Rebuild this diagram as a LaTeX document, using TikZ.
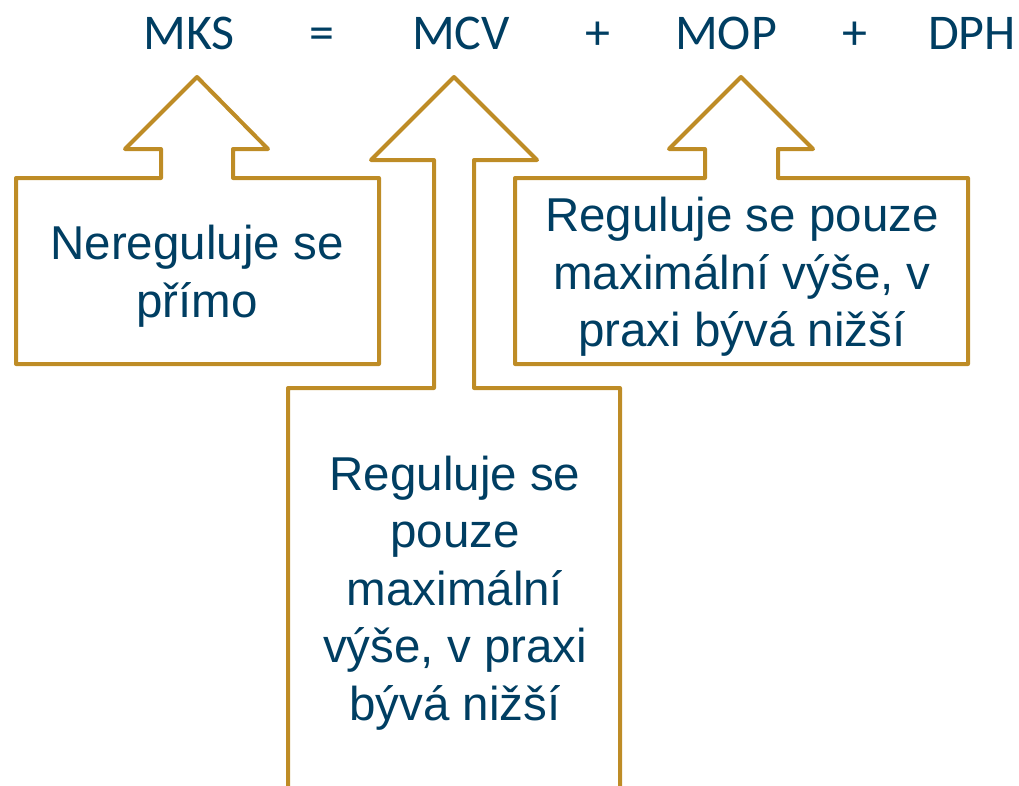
\documentclass[tikz,border=0pt]{standalone}
\usepackage{fontspec}
\setmainfont{Liberation Sans}
\newfontfamily\termfont{Carlito}
\definecolor{gold}{RGB}{190,140,38}
\definecolor{navy}{RGB}{0,62,98}
\begin{document}
\begin{tikzpicture}[
  callout/.style={color=gold, line width=4pt, line join=round},
  term/.style={anchor=base, inner sep=0pt, text=navy, font=\termfont\fontsize{50}{60}\selectfont},
  note/.style={align=center, inner sep=0pt, text=navy, font=\fontsize{47.5}{57.5}\selectfont}]
\useasboundingbox (0pt, 0pt) rectangle (1019pt, -785pt);
\clip (0pt, 0pt) rectangle (1019pt, -785pt);
% equation
\node[term] (mks) at (189pt, -49pt) {MKS};
\node[term] (eq) at (322pt, -49pt) {=};
\node[term] (mcv) at (461pt, -49pt) {MCV};
\node[term] (plusa) at (598pt, -49pt) {+};
\node[term] (mop) at (726pt, -49pt) {MOP};
\node[term] (plusb) at (855pt, -49pt) {+};
\node[term] (dph) at (972pt, -49pt) {DPH};
% callouts
\draw[callout] (16pt, -364pt) -- (16pt, -178pt) -- (161pt, -178pt) -- (161pt, -149pt)
  -- (125pt, -149pt) -- (197pt, -77pt) -- (268pt, -149pt) -- (233pt, -149pt)
  -- (233pt, -178pt) -- (379pt, -178pt) -- (379pt, -364pt) -- cycle;
\draw[callout] (288pt, -800pt) -- (288pt, -388pt) -- (434pt, -388pt) -- (434pt, -160pt)
  -- (371pt, -160pt) -- (454pt, -77pt) -- (537pt, -160pt) -- (474pt, -160pt)
  -- (474pt, -388pt) -- (620pt, -388pt) -- (620pt, -800pt);
\draw[callout] (515pt, -364pt) -- (515pt, -178pt) -- (705pt, -178pt) -- (705pt, -149pt)
  -- (669pt, -149pt) -- (741pt, -77pt) -- (813pt, -149pt) -- (778pt, -149pt)
  -- (778pt, -178pt) -- (968pt, -178pt) -- (968pt, -364pt) -- cycle;
% texts
\node[note] (mkstext) at (197pt, -276pt) {Nereguluje se\\přímo};
\node[note] (mcvtext) at (455pt, -593pt) {Reguluje se\\pouze\\maximální\\výše, v praxi\\bývá nižší};
\node[note] (moptext) at (742pt, -277pt) {Reguluje se pouze\\maximální výše, v\\praxi bývá nižší};
\end{tikzpicture}
\end{document}
